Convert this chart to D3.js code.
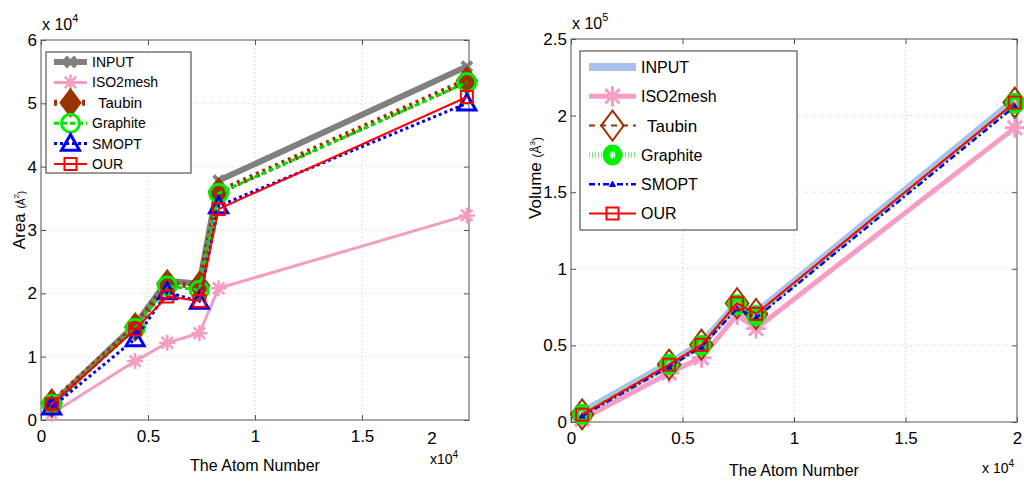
<!DOCTYPE html>
<html>
<head>
<meta charset="utf-8">
<script src="https://cdn.jsdelivr.net/npm/d3@7"></script>
<style>
  body { margin: 0; background: #fff; }
  svg { font-family: "Liberation Sans", Arial, sans-serif; }
  .tick text { font-size: 17px; fill: #000; }
  .grid line { stroke: #c8c8c8; stroke-dasharray: 1,3; }
</style>
</head>
<body>
<svg id="chart" width="1024" height="481"></svg>
<script>
// ---- data ----
const seriesNames = ['INPUT', 'ISO2mesh', 'Taubin', 'Graphite', 'SMOPT', 'OUR'];

// atom number (x 10^4)
const atomArea = [0.05, 0.44, 0.59, 0.74, 0.83, 1.99];
const atomVolume = [0.05, 0.44, 0.585, 0.745, 0.83, 1.99];

// area (x 10^4)
const areaInput = [0.25, 1.5, 2.2, 2.15, 3.78, 5.58];
const areaIso = [0.1, 0.93, 1.22, 1.37, 2.08, 3.23];
const areaTaubin = [0.27, 1.47, 2.15, 2.12, 3.6, 5.36];
const areaGraphite = [0.25, 1.45, 2.12, 2.05, 3.58, 5.33];
const areaSmopt = [0.2, 1.28, 2.02, 1.87, 3.38, 5.0];
const areaOur = [0.25, 1.43, 1.95, 1.88, 3.33, 5.1];

// volume (x 10^5)
const volInput = [0.06, 0.38, 0.51, 0.77, 0.71, 2.1];
const volIso = [0.02, 0.32, 0.42, 0.7, 0.61, 1.92];
const volTaubin = [0.05, 0.375, 0.505, 0.775, 0.705, 2.085];
const volGraphite = [0.05, 0.375, 0.5, 0.765, 0.695, 2.08];
const volSmopt = [0.04, 0.36, 0.49, 0.74, 0.68, 2.06];
const volOur = [0.048, 0.374, 0.504, 0.775, 0.706, 2.085];

const xTicks = [0, 0.5, 1, 1.5, 2];
const areaTicks = [0, 1, 2, 3, 4, 5, 6];
const volTicks = [0, 0.5, 1, 1.5, 2, 2.5];

const svg = d3.select('#chart');

// ---- marker drawing ----
function drawMarker(g, type, x, y, st) {
  const s = st.size;
  if (type === 'x') {
    g.append('path').attr('d', `M${x - s},${y - s}L${x + s},${y + s}M${x - s},${y + s}L${x + s},${y - s}`)
      .attr('stroke', st.color).attr('stroke-width', st.mw).attr('fill', 'none');
  } else if (type === 'star') {
    const d = s * 0.72;
    g.append('path')
      .attr('d', `M${x - s},${y}L${x + s},${y}M${x},${y - s}L${x},${y + s}M${x - d},${y - d}L${x + d},${y + d}M${x - d},${y + d}L${x + d},${y - d}`)
      .attr('stroke', st.color).attr('stroke-width', st.mw).attr('fill', 'none');
  } else if (type === 'diamond') {
    const w = s * (st.dw || 1);
    g.append('path').attr('d', `M${x},${y - s}L${x + w},${y}L${x},${y + s}L${x - w},${y}Z`)
      .attr('stroke', st.color).attr('stroke-width', st.mw).attr('fill', st.fill || 'none');
  } else if (type === 'circle') {
    g.append('ellipse').attr('cx', x).attr('cy', y).attr('rx', s * (st.cw || 1)).attr('ry', s)
      .attr('stroke', st.color).attr('stroke-width', st.mw).attr('fill', st.fill || 'none');
  } else if (type === 'triangle') {
    g.append('path').attr('d', `M${x},${y - s}L${x + s},${y + s * 0.75}L${x - s},${y + s * 0.75}Z`)
      .attr('stroke', st.color).attr('stroke-width', st.mw).attr('fill', st.fill || 'none');
  } else if (type === 'square') {
    g.append('rect').attr('x', x - s).attr('y', y - s).attr('width', 2 * s).attr('height', 2 * s)
      .attr('stroke', st.color).attr('stroke-width', st.mw).attr('fill', 'none');
  }
}

// ---- one panel ----
function drawPanel(cfg) {
  const m = cfg.frame; // {left, top, right, bottom}
  const xScale = d3.scaleLinear().domain([0, 2]).range([m.left, m.right]);
  const yScale = d3.scaleLinear().domain(cfg.yDomain).range([m.bottom, m.top]);

  const g = svg.append('g');

  // grid
  const grid = g.append('g').attr('class', 'grid');
  grid.selectAll('.gx').data(xTicks.filter(t => t > 0 && t < 2)).enter().append('line')
    .attr('x1', d => xScale(d)).attr('x2', d => xScale(d)).attr('y1', m.top).attr('y2', m.bottom);
  grid.selectAll('.gy').data(cfg.yTicks.filter((t, i) => i > 0 && i < cfg.yTicks.length - 1)).enter().append('line')
    .attr('y1', d => yScale(d)).attr('y2', d => yScale(d)).attr('x1', m.left).attr('x2', m.right);

  // frame
  g.append('rect').attr('x', m.left).attr('y', m.top).attr('width', m.right - m.left).attr('height', m.bottom - m.top)
    .attr('fill', 'none').attr('stroke', '#555').attr('stroke-width', 1);

  // axes
  const xAx = g.append('g').attr('transform', `translate(0,${m.bottom})`)
    .call(d3.axisBottom(xScale).tickValues(cfg.xTickShow).tickSize(-5).tickPadding(10).tickFormat(d3.format('')));
  const xAxTop = g.append('g').attr('transform', `translate(0,${m.top})`)
    .call(d3.axisTop(xScale).tickValues(cfg.xTickShow).tickSize(-5).tickFormat(''));
  const yAx = g.append('g').attr('transform', `translate(${m.left},0)`)
    .call(d3.axisLeft(yScale).tickValues(cfg.yTicks).tickSize(-5).tickPadding(4).tickFormat(d3.format('')));
  const yAxR = g.append('g').attr('transform', `translate(${m.right},0)`)
    .call(d3.axisRight(yScale).tickValues(cfg.yTicks).tickSize(-5).tickFormat(''));
  [xAx, xAxTop, yAx, yAxR].forEach(a => {
    a.select('.domain').remove();
    a.selectAll('.tick line').attr('stroke', '#555');
  });

  // lines + markers
  const line = d3.line().x(d => xScale(d[0])).y(d => yScale(d[1]));
  cfg.series.forEach(s => {
    const pts = cfg.xs.map((x, i) => [x, s.values[i]]);
    if (s.lineColor) {
      g.append('path').attr('d', line(pts)).attr('fill', 'none')
        .attr('stroke', s.lineColor).attr('stroke-width', s.lw)
        .attr('stroke-dasharray', s.dash || null).attr('stroke-linejoin', 'round');
    }
    if (s.marker) {
      pts.forEach(p => drawMarker(g, s.marker, xScale(p[0]), yScale(p[1]), s));
    }
  });

  // legend
  const lg = cfg.legend;
  g.append('rect').attr('x', lg.x).attr('y', lg.y).attr('width', lg.w).attr('height', lg.h)
    .attr('fill', '#fff').attr('stroke', '#333').attr('stroke-width', 1);
  cfg.series.forEach((s, i) => {
    const yy = lg.y + lg.first + i * lg.step;
    if (s.lineColor) {
      g.append('line').attr('x1', lg.x + lg.l1).attr('x2', lg.x + lg.l2).attr('y1', yy).attr('y2', yy)
        .attr('stroke', s.legendColor || s.lineColor).attr('stroke-width', s.lw).attr('stroke-dasharray', s.dash || null);
    }
    if (s.marker) drawMarker(g, s.marker, lg.x + (lg.l1 + lg.l2) / 2, yy, s);
    g.append('text').attr('x', lg.x + lg.tx + (s.name === 'Taubin' ? 6 : 0)).attr('y', yy)
      .attr('dy', '0.36em').attr('font-size', lg.fs + (s.name === 'Taubin' ? 1 : 0)).text(s.name);
  });

  // exponent labels
  const top = g.append('text').attr('x', m.left + 1).attr('y', m.top - 10).attr('font-size', 16);
  top.append('tspan').text('x 10');
  top.append('tspan').attr('dy', -8).attr('font-size', 11).text(cfg.yExp);

  // axis titles
  g.append('text').attr('x', (m.left + m.right) / 2).attr('y', cfg.xTitleY)
    .attr('text-anchor', 'middle').attr('font-size', 16).text('The Atom Number');

  const yt = g.append('text').attr('transform', `translate(${cfg.yTitleX},${cfg.yTitleY}) rotate(-90)`)
    .attr('text-anchor', 'middle').attr('font-size', 17);
  yt.append('tspan').text(cfg.yTitle + ' ');
  yt.append('tspan').attr('font-size', cfg.unitFs).text('(Å');
  yt.append('tspan').attr('font-size', 8).attr('dy', -6).text(cfg.unitExp);
  yt.append('tspan').attr('font-size', cfg.unitFs).attr('dy', 6).text(')');

  return { xScale, yScale, g };
}

// ---- left: area ----
const left = drawPanel({
  frame: { left: 41, top: 40, right: 469, bottom: 420 },
  yDomain: [0, 6], yTicks: areaTicks, xs: atomArea,
  xTickShow: [0, 0.5, 1, 1.5],
  yExp: '4', yTitle: 'Area', unitExp: '2', unitFs: 10,
  yTitleX: 25, yTitleY: 220, xTitleY: 471,
  legend: { x: 46, y: 52, w: 145, h: 121, first: 10, step: 20.4, l1: 8, l2: 41, tx: 46, fs: 14 },
  series: [
    { name: seriesNames[0], values: areaInput, lineColor: '#808080', lw: 6, marker: 'x', color: '#808080', size: 5, mw: 4 },
    { name: seriesNames[1], values: areaIso, lineColor: '#f59cc3', lw: 3, marker: 'star', color: '#f59cc3', size: 8, mw: 2.5 },
    { name: seriesNames[2], values: areaTaubin, lineColor: '#993300', lw: 6, dash: '3,4', marker: 'diamond', color: '#993300', size: 10, dw: 0.75, mw: 6, fill: '#993300' },
    { name: seriesNames[3], values: areaGraphite, lineColor: '#00e000', lw: 3, dash: '5,3', marker: 'circle', color: '#00ee00', size: 9, mw: 3 },
    { name: seriesNames[4], values: areaSmopt, lineColor: '#0000ee', lw: 3, dash: '3,3', marker: 'triangle', color: '#0000ee', size: 9, mw: 3 },
    { name: seriesNames[5], values: areaOur, lineColor: '#ff0000', lw: 2, marker: 'square', color: '#ff0000', size: 6, mw: 2 }
  ]
});

// "2" and "x10^4" labels under the left axis sit off the frame edge
left.g.append('text').attr('x', 432).attr('y', 444).attr('text-anchor', 'middle').attr('font-size', 17).text('2');
const lx = left.g.append('text').attr('x', 430).attr('y', 464).attr('text-anchor', 'start').attr('font-size', 14);
lx.append('tspan').text('x10');
lx.append('tspan').attr('dy', -6).attr('font-size', 10).text('4');

// ---- right: volume ----
const right = drawPanel({
  frame: { left: 571, top: 39, right: 1017, bottom: 422 },
  yDomain: [0, 2.5], yTicks: volTicks, xs: atomVolume,
  xTickShow: xTicks,
  yExp: '5', yTitle: 'Volume', unitExp: '3', unitFs: 12,
  yTitleX: 541, yTitleY: 178, xTitleY: 476,
  legend: { x: 580, y: 51, w: 217, h: 179, first: 16, step: 29.3, l1: 9, l2: 56, tx: 61, fs: 16 },
  series: [
    { name: seriesNames[0], values: volInput, lineColor: '#a9c0ef', lw: 8 },
    { name: seriesNames[1], values: volIso, lineColor: '#f79cc4', lw: 5, marker: 'star', color: '#f79cc4', size: 10, mw: 3 },
    { name: seriesNames[2], values: volTaubin, lineColor: '#993300', lw: 2, dash: '6,5', marker: 'diamond', color: '#993300', size: 15, dw: 0.75, mw: 2 },
    { name: seriesNames[3], values: volGraphite, lineColor: '#7ef07e', lw: 6, dash: '1,2', legendColor: '#7ef07e', marker: 'circle', color: '#00ee00', size: 7, cw: 0.9, mw: 7 },
    { name: seriesNames[4], values: volSmopt, lineColor: '#0000ee', lw: 2.5, dash: '6,3,2,3', marker: 'triangle', color: '#0000ee', size: 3, mw: 1, fill: '#0000ee' },
    { name: seriesNames[5], values: volOur, lineColor: '#ff0000', lw: 2, marker: 'square', color: '#ff0000', size: 6, mw: 2 }
  ]
});

const rx = right.g.append('text').attr('x', 982).attr('y', 473).attr('font-size', 14);
rx.append('tspan').text('x 10');
rx.append('tspan').attr('dy', -6).attr('font-size', 10).text('4');
</script>
</body>
</html>
